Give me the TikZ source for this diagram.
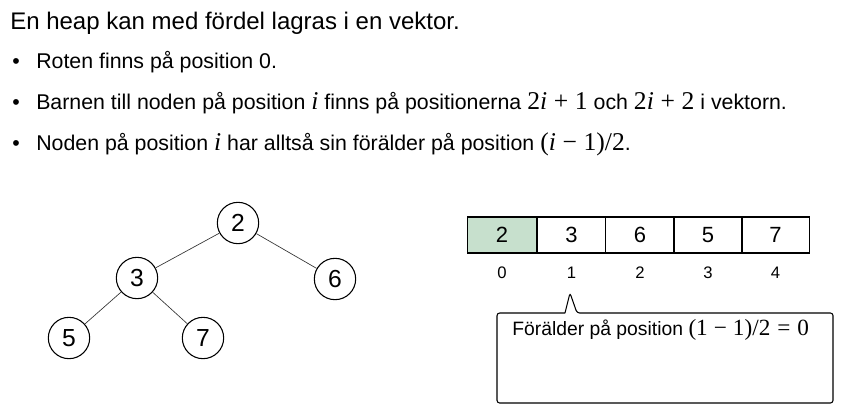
\documentclass[tikz,border=0pt]{standalone}
\usepackage{fontspec}
\setmainfont{Liberation Sans}
\newfontfamily\mserif[Scale=1.2]{Liberation Serif}
\newcommand\mvar[1]{{\mserif\itshape #1}}
\newcommand\bop[1]{\hspace{0.26em}#1\hspace{0.26em}}
\newcommand\rel[1]{\hspace{0.3em}#1\hspace{0.3em}}
\begin{document}
\begin{tikzpicture}[x=0.75pt,y=-0.75pt,
  title/.style={anchor=base west,inner sep=0pt,font=\fontsize{18}{20}\selectfont},
  btext/.style={anchor=base west,inner sep=0pt,font=\fontsize{16}{18}\selectfont},
  tnode/.style={circle,draw,line width=0.8pt,minimum size=31pt,inner sep=0pt,font=\fontsize{18.5}{20}\selectfont},
  edge/.style={draw=black!80,line width=0.5pt},
  cell/.style={draw,line width=1pt,minimum width=51.4pt,minimum height=27pt,inner sep=0pt,font=\fontsize{16.5}{18}\selectfont},
  idx/.style={inner sep=0pt,font=\fontsize{12.5}{14}\selectfont},
  callout/.style={anchor=base west,inner sep=0pt,font=\fontsize{14.5}{16}\selectfont}]
\useasboundingbox (0,0) rectangle (841,407);
% text
\node[title] (t0) at (10,29) {En heap kan med fördel lagras i en vektor.};
\node[btext] (b1) at (12,68) {•};
\node[btext] (l1) at (36,68) {Roten finns på position 0.};
\node[btext] (b2) at (12,109) {•};
\node[btext] (l2) at (36,109) {Barnen till noden på position \mvar{i} finns på positionerna {\mserif 2\textit{i}\bop{+}1} och {\mserif 2\textit{i}\bop{+}2} i vektorn.};
\node[btext] (b3) at (12,150) {•};
\node[btext] (l3) at (36,150) {Noden på position \mvar{i} har alltså sin förälder på position {\mserif (\textit{i}\bop{−}1)/2}.};
% tree
\node[tnode] (n2) at (238,223) {2};
\node[tnode] (n3) at (137,278) {3};
\node[tnode] (n6) at (335,279) {6};
\node[tnode] (n5) at (69,338) {5};
\node[tnode] (n7) at (203,338) {7};
\draw[edge] (n2) -- (n3);
\draw[edge] (n2) -- (n6);
\draw[edge] (n3) -- (n5);
\draw[edge] (n3) -- (n7);
% array
\node[cell,fill={rgb,255:red,199;green,224;blue,205}] (c0) at (502,235) {2};
\node[cell] (c1) at (571.5,235) {3};
\node[cell] (c2) at (640,235) {6};
\node[cell] (c3) at (708,235) {5};
\node[cell] (c4) at (775.5,235) {7};
\node[idx] (i0) at (502,273) {0};
\node[idx] (i1) at (571.5,273) {1};
\node[idx] (i2) at (640,273) {2};
\node[idx] (i3) at (708,273) {3};
\node[idx] (i4) at (775.5,273) {4};
% callout
\coordinate (tip) at (570,293);
\draw[line width=0.8pt,rounded corners=2pt] (565,313) -- (tip) -- (577,313) -- (833,313) -- (833,403) -- (497,403) -- (497,313) -- (565,313);
\node[callout] (ct) at (512,335) {Förälder på position {\mserif (1\bop{−}1)/2\rel{=}0}};
\end{tikzpicture}
\end{document}
